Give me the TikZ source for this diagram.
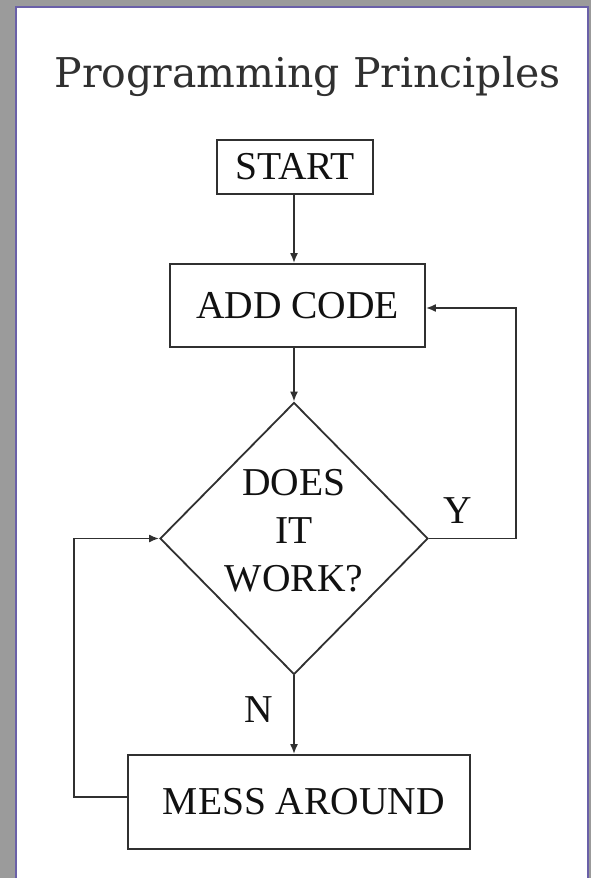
\documentclass[tikz,border=0pt]{standalone}
\usepackage{fontspec}
\setmainfont{Liberation Serif}
\newfontfamily\titlefont{DejaVu Serif}
\usetikzlibrary{shapes.geometric,arrows.meta}
\definecolor{bggray}{HTML}{9B9B9B}
\definecolor{pageedge}{HTML}{6A60A8}
\definecolor{linecol}{HTML}{303030}
\definecolor{textcol}{HTML}{111111}
\definecolor{titlecol}{HTML}{303030}
\begin{document}
\begin{tikzpicture}[x=1pt,y=-1pt,
  boxtext/.style={font=\fontsize{39.5}{48}\selectfont, text=textcol},
  stepbox/.style={draw=linecol, line width=1.8pt, rectangle, inner sep=0pt, boxtext},
  decision/.style={draw=linecol, line width=1.8pt, diamond, inner sep=0pt},
  conn/.style={draw=linecol, line width=1.8pt},
  arr/.style={conn, -{Latex[length=10pt,width=8pt]}},
  lbl/.style={boxtext, anchor=base, inner sep=0pt}]
\useasboundingbox (0,0) rectangle (591,878);
\fill[bggray] (0,0) rectangle (591,878);
\draw[pageedge, line width=2pt, fill=white] (16,7) rectangle (588,890);

\node[font=\titlefont\fontsize{41}{48}\selectfont, text=titlecol, anchor=base, inner sep=0pt] (title) at (307.5,87) {Programming Principles};

\node[stepbox, minimum width=156pt, minimum height=54pt] (start) at (295,167) {START};
\node[stepbox, minimum width=255pt, minimum height=83pt] (add) at (297.5,305.5) {ADD CODE};
\node[decision, minimum width=268pt, minimum height=272pt] (dec) at (294,538.5) {};
\node[boxtext, align=center, inner sep=0pt] (dectext) at (294,531) {DOES\\IT\\WORK?};
\node[stepbox, minimum width=342pt, minimum height=94pt] (mess) at (299,802) {\hspace*{10pt}MESS AROUND};

\node[lbl] (ylbl) at (457.5,523) {Y};
\node[lbl] (nlbl) at (259,722) {N};

\draw[arr] (start.south -| dec.north) -- (add.north -| dec.north);
\draw[arr] (add.south -| dec.north) -- (dec.north);
\draw[arr] (dec.south) -- (mess.north -| dec.south);
\draw[arr] (dec.east) -- ++(87,0) |- ([yshift=-2.5pt]add.east);
\draw[arr] ([yshift=5pt]mess.west) -- ++(-53,0) |- (dec.west);
\end{tikzpicture}
\end{document}
